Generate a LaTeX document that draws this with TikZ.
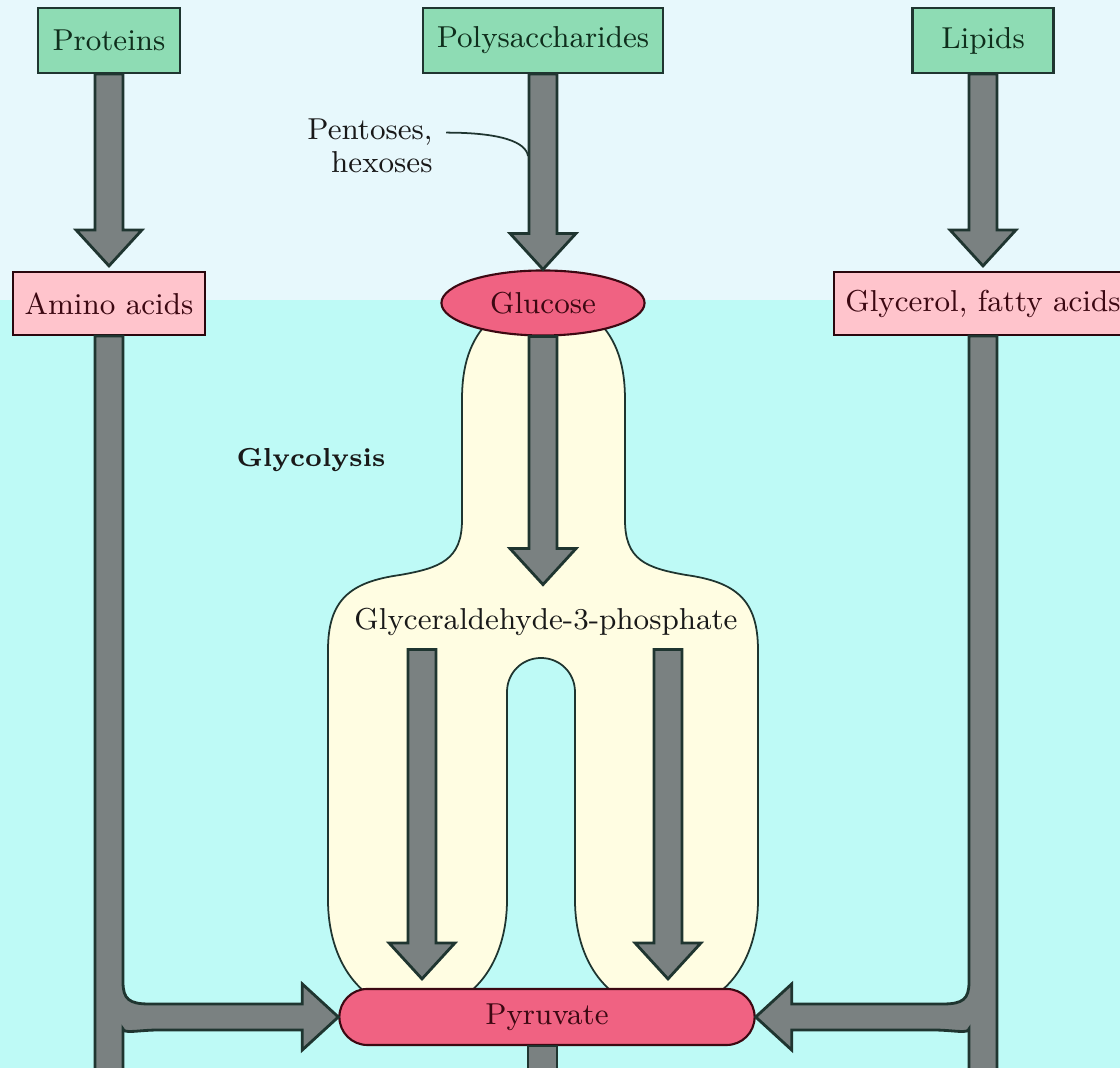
\documentclass[tikz,border=0pt]{standalone}
\usepackage{tikz}
\usetikzlibrary{calc, shapes.geometric}

\definecolor{skytop}{HTML}{E7F8FC}
\definecolor{skybot}{HTML}{BEFAF6}
\definecolor{polygreen}{HTML}{8EDCB4}
\definecolor{monopink}{HTML}{FFC4CC}
\definecolor{keypink}{HTML}{F06282}
\definecolor{arrgray}{HTML}{7A8181}
\definecolor{arrdark}{HTML}{1F3530}
\definecolor{cream}{HTML}{FFFDE2}
\definecolor{greentext}{HTML}{0F2E1C}
\definecolor{redtext}{HTML}{3C0812}

\begin{document}
\begin{tikzpicture}[x=0.01cm, y=-0.01cm,
    lbl/.style={font=\fontsize{8.6}{9.2}\selectfont, inner sep=0pt, text=black!90},
    polybox/.style={rectangle, draw=arrdark, line width=0.6pt, fill=polygreen, text=greentext, minimum width=#1, minimum height=0.65cm, font=\fontsize{8.6}{9.2}\selectfont},
    monobox/.style={rectangle, draw=redtext!70!black, line width=0.6pt, fill=monopink, text=redtext, minimum width=#1, minimum height=0.63cm, font=\fontsize{8.6}{9.2}\selectfont},
    keynode/.style={draw=redtext, line width=0.6pt, fill=keypink, text=redtext, font=\fontsize{8.6}{9.2}\selectfont},
    fatbody/.style={fill=arrgray, draw=arrdark, line width=0.8pt},
    fatarrow/.style={fatbody, to path={($(\tikztostart)+(-14,0)$) -- ($(\tikztotarget)+(-14,-36)$) -- ($(\tikztotarget)+(-33,-36)$) -- (\tikztotarget) -- ($(\tikztotarget)+(33,-36)$) -- ($(\tikztotarget)+(14,-36)$) -- ($(\tikztostart)+(14,0)$) -- cycle}}
]
\useasboundingbox (0,0) rectangle (1120,1068);

% background bands
\fill[skytop] (0,0) rectangle (1120,300);
\fill[skybot] (0,300) rectangle (1120,1068);

% glycolysis envelope
\draw[fill=cream, draw=arrdark, line width=0.5pt]
  (490,320) .. controls (470,340) and (462,365) .. (462,400)
  -- (462,520) .. controls (462,560) and (440,568) .. (400,575)
  .. controls (350,582) and (328,600) .. (328,650)
  -- (328,900) .. controls (328,960) and (360,1010) .. (417,1010)
  .. controls (475,1010) and (507,960) .. (507,900)
  -- (507,692) .. controls (507,673) and (522,658) .. (541,658)
  .. controls (560,658) and (575,673) .. (575,692)
  -- (575,900) .. controls (575,960) and (607,1010) .. (666,1010)
  .. controls (725,1010) and (758,960) .. (758,900)
  -- (758,650) .. controls (758,600) and (736,582) .. (686,575)
  .. controls (646,568) and (625,560) .. (625,520)
  -- (625,400) .. controls (625,365) and (617,340) .. (597,320) -- cycle;

% nodes
\node[polybox=1.42cm] (prot) at (109,40.5) {Proteins};
\node[polybox=2.40cm] (poly) at (543,40.5) {Polysaccharides};
\node[polybox=1.41cm] (lip) at (983,40.5) {Lipids};
\node[monobox=1.92cm] (amino) at (109,303.5) {Amino acids};
\node[keynode, ellipse, minimum width=2.03cm, minimum height=0.65cm] (gluc) at (543,303) {Glucose};
\node[monobox=2.90cm] (glyc) at (983,303.5) {Glycerol, fatty acids};
\node[lbl, align=right] (pent) at (370,146) {Pentoses,\\hexoses};
\node[lbl, font=\bfseries\fontsize{7.4}{9}\selectfont] (glycl) at (311,460) {Glycolysis};
\node[lbl] (g3p) at (546,622) {Glyceraldehyde-3-phosphate};
\node[keynode, rectangle, rounded corners=0.28cm, minimum width=4.15cm, minimum height=0.56cm] (pyr) at (547,1017) {Pyruvate};

% end points
\coordinate (aminotop) at ($(amino.north)+(0,-5)$);
\coordinate (glyctop) at ($(glyc.north)+(0,-5)$);
\coordinate (g3ptop) at ($(gluc.south)+(0,248)$);
\coordinate (g3pl) at ($(g3p.south)+(-124,13)$);
\coordinate (g3pr) at ($(g3p.south)+(122,13)$);
\coordinate (pyrl) at ($(g3pl |- pyr.north)+(0,-9)$);
\coordinate (pyrr) at ($(g3pr |- pyr.north)+(0,-9)$);
\coordinate (pentjoin) at ($(poly.south)+(-15,82)$);
\coordinate (jl) at (amino.south |- pyr.west);
\coordinate (jr) at (glyc.south |- pyr.east);

% straight arrows
\draw[fatarrow] (prot.south) to (aminotop);
\draw[fatarrow] (poly.south) to (gluc.north);
\draw[fatarrow] (lip.south) to (glyctop);
\draw[fatarrow] (gluc.south) to (g3ptop);
\draw[fatarrow] (g3pl) to (pyrl);
\draw[fatarrow] (g3pr) to (pyrr);

% side routes into pyruvate
\draw[fatbody] ($(amino.south)+(-14,0)$) -- ($(jl)+(-14,60)$) -- ($(jl)+(14,60)$) -- ($(jl)+(14,12)$)
  .. controls ($(jl)+(15,17)$) and ($(jl)+(30,13)$) .. ($(jl)+(50,13)$)
  -- ($(pyr.west)+(-36,13)$) -- ($(pyr.west)+(-36,33)$) -- (pyr.west) -- ($(pyr.west)+(-36,-33)$) -- ($(pyr.west)+(-36,-13)$)
  -- ($(jl)+(40,-13)$) .. controls ($(jl)+(20,-13)$) and ($(jl)+(14,-18)$) .. ($(jl)+(14,-35)$)
  -- ($(amino.south)+(14,0)$) -- cycle;
\draw[fatbody] ($(glyc.south)+(14,0)$) -- ($(jr)+(14,60)$) -- ($(jr)+(-14,60)$) -- ($(jr)+(-14,12)$)
  .. controls ($(jr)+(-15,17)$) and ($(jr)+(-30,13)$) .. ($(jr)+(-50,13)$)
  -- ($(pyr.east)+(36,13)$) -- ($(pyr.east)+(36,33)$) -- (pyr.east) -- ($(pyr.east)+(36,-33)$) -- ($(pyr.east)+(36,-13)$)
  -- ($(jr)+(-40,-13)$) .. controls ($(jr)+(-20,-13)$) and ($(jr)+(-14,-18)$) .. ($(jr)+(-14,-35)$)
  -- ($(glyc.south)+(-14,0)$) -- cycle;
\draw[fatbody] ($(pyr.south)+(-19,0)$) rectangle ($(pyr.south)+(10,40)$);

% leader
\draw[arrdark, line width=0.5pt] ($(pent.north east)+(13,14)$) .. controls +(55,0) and +(-2,-14) .. (pentjoin);

\end{tikzpicture}
\end{document}
